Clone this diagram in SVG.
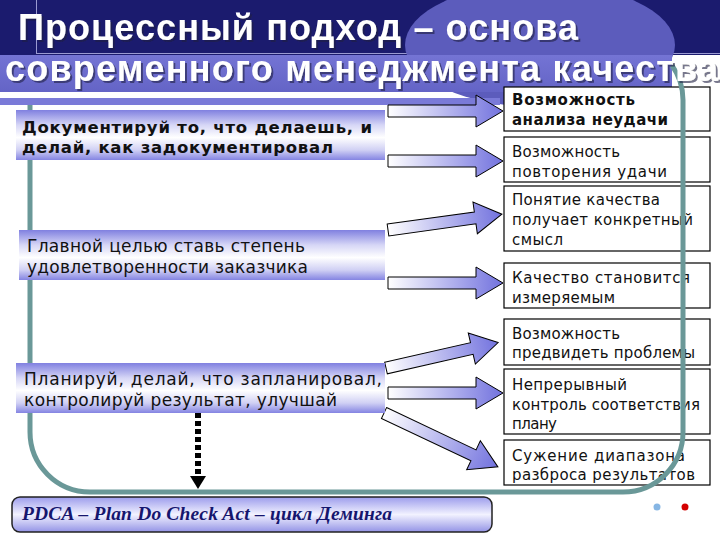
<svg xmlns="http://www.w3.org/2000/svg" width="720" height="540" viewBox="0 0 720 540">
<defs>
<linearGradient id="bandG" x1="0" y1="0" x2="0" y2="1">
<stop offset="0" stop-color="#7474d4"/><stop offset="1" stop-color="#6464c6"/>
</linearGradient>
<linearGradient id="boxG" x1="0" y1="0" x2="0" y2="1">
<stop offset="0" stop-color="#8080e0"/><stop offset="0.3" stop-color="#d6d6f6"/><stop offset="0.55" stop-color="#ffffff"/><stop offset="0.8" stop-color="#d0d0f4"/><stop offset="1" stop-color="#8484e2"/>
</linearGradient>
<linearGradient id="pdcaG" x1="0" y1="0" x2="0" y2="1">
<stop offset="0" stop-color="#9c9cec"/><stop offset="0.5" stop-color="#f2f2ff"/><stop offset="1" stop-color="#9494e6"/>
</linearGradient>
<linearGradient id="arrG" x1="0" y1="0" x2="1" y2="0">
<stop offset="0" stop-color="#ffffff"/><stop offset="1" stop-color="#7272de"/>
</linearGradient>
<filter id="ts" x="-5%" y="-20%" width="110%" height="150%">
<feDropShadow dx="2" dy="2" stdDeviation="0.6" flood-color="#202040" flood-opacity="0.6"/>
</filter>
<path id="arr" d="M0,-6 H88 V-16 L115,0 L88,16 V6 H0 Z"/>
<path id="arrL" d="M0,-6 H99 V-16 L126,0 L99,16 V6 H0 Z"/>
<style>
.title{font-family:"Liberation Sans",Arial,sans-serif;font-weight:bold;font-size:36px;fill:#ffffff;filter:url(#ts)}
.lbox{fill:url(#boxG)}
.ltxt{font-family:"DejaVu Sans",Verdana,sans-serif;font-size:17px;fill:#111}
.ltxtb{font-family:"DejaVu Sans",Verdana,sans-serif;font-size:16.5px;font-weight:bold;fill:#111}
.rbox{fill:#ffffff;stroke:#000;stroke-width:1.2}
.rtxt{font-family:"DejaVu Sans",Verdana,sans-serif;font-size:15px;fill:#111}
.rtxtb{font-family:"DejaVu Sans",Verdana,sans-serif;font-size:15px;font-weight:bold;fill:#111}
.arrow{fill:url(#arrG);stroke:#000;stroke-width:1}
.loop{fill:none;stroke:#6a9898;stroke-width:5}
</style>
</defs>
<rect x="0" y="0" width="720" height="540" fill="#ffffff"/>
<g id="header">
<rect x="0" y="0" width="720" height="55" fill="#1b1b6e"/>
<line x1="36.5" y1="0" x2="36.5" y2="54" stroke="#9a9ad2" stroke-width="1"/>
<line x1="36" y1="53.5" x2="720" y2="53.5" stroke="#9a9ad2" stroke-width="1"/>
<ellipse cx="540" cy="45" rx="135" ry="62" fill="#5c5cbc"/>
<rect x="0" y="55" width="672" height="37" fill="url(#bandG)"/>
<rect x="0" y="98" width="500" height="7" fill="#7a7ad8"/>
</g>
<g id="right-boxes">
<g id="rA"><rect class="rbox" x="504" y="87" width="206" height="44"/>
<text class="rtxtb" x="512" y="105" textLength="123">Возможность</text>
<text class="rtxtb" x="512" y="125" textLength="156">анализа неудачи</text></g>
<g id="rB"><rect class="rbox" x="504" y="137" width="206" height="45"/>
<text class="rtxt" x="512" y="157" textLength="108">Возможность</text>
<text class="rtxt" x="512" y="177" textLength="155">повторения удачи</text></g>
<g id="rC"><rect class="rbox" x="504" y="186" width="206" height="65"/>
<text class="rtxt" x="512" y="205" textLength="148">Понятие качества</text>
<text class="rtxt" x="512" y="225" textLength="181">получает конкретный</text>
<text class="rtxt" x="512" y="245" textLength="51">смысл</text></g>
<g id="rD"><rect class="rbox" x="504" y="263" width="206" height="45"/>
<text class="rtxt" x="512" y="283" textLength="178">Качество становится</text>
<text class="rtxt" x="512" y="303" textLength="103">измеряемым</text></g>
<g id="rE"><rect class="rbox" x="504" y="319" width="206" height="46"/>
<text class="rtxt" x="512" y="339" textLength="108">Возможность</text>
<text class="rtxt" x="512" y="358" textLength="183">предвидеть проблемы</text></g>
<g id="rF"><rect class="rbox" x="504" y="369" width="206" height="65"/>
<text class="rtxt" x="512" y="390" textLength="115">Непрерывный</text>
<text class="rtxt" x="512" y="410" textLength="188">контроль соответствия</text>
<text class="rtxt" x="512" y="429" textLength="45">плану</text></g>
<g id="rG"><rect class="rbox" x="504" y="440" width="206" height="45"/>
<text class="rtxt" x="512" y="461" textLength="173">Сужение диапазона</text>
<text class="rtxt" x="512" y="480" textLength="183">разброса результатов</text></g>
</g>
<g id="connectors">
<path class="loop" d="M672,65.4 A60,60 0 0 1 683,100 L683,432 A60,60 0 0 1 623,492 L90,492 A60,60 0 0 1 30,432 L30,105"/>
<use href="#arr" class="arrow" transform="translate(388,111)"/>
<use href="#arr" class="arrow" transform="translate(388,161)"/>
<use href="#arr" class="arrow" transform="translate(388,230) rotate(-7.9)"/>
<use href="#arr" class="arrow" transform="translate(388,283)"/>
<use href="#arr" class="arrow" transform="translate(386,368) rotate(-12.8)"/>
<use href="#arr" class="arrow" transform="translate(388,393)"/>
<use href="#arrL" class="arrow" transform="translate(384,413) rotate(25.3)"/>
<line x1="198" y1="413" x2="198" y2="477" stroke="#000" stroke-width="6" stroke-dasharray="5 3"/>
<polygon points="190,476 206,476 198,489" fill="#000"/>
</g>
<g id="l1"><rect class="lbox" x="16" y="110" width="369" height="50"/>
<text class="ltxtb" x="22" y="133" textLength="350">Документируй то, что делаешь, и</text>
<text class="ltxtb" x="22" y="153" textLength="311">делай, как задокументировал</text></g>
<g id="l2"><rect class="lbox" x="19" y="230" width="366" height="50"/>
<text class="ltxt" x="27" y="252" textLength="278">Главной целью ставь степень</text>
<text class="ltxt" x="27" y="273" textLength="281">удовлетворенности заказчика</text></g>
<g id="l3"><rect class="lbox" x="16" y="363" width="369" height="50"/>
<text class="ltxt" x="24" y="385" textLength="358">Планируй, делай, что запланировал,</text>
<text class="ltxt" x="24" y="406" textLength="313">контролируй результат, улучшай</text></g>
<g id="pdca"><rect x="12" y="497" width="480" height="35" rx="8" fill="url(#pdcaG)" stroke="#222" stroke-width="1.5"/>
<text x="22" y="520" font-family="Liberation Serif,'Times New Roman',serif" font-weight="bold" font-style="italic" font-size="19.5" fill="#16166e" textLength="370">PDCA – Plan Do Check Act – цикл Деминга</text></g>
<circle cx="657" cy="507" r="3.5" fill="#86b6e4"/>
<circle cx="685" cy="507" r="3.5" fill="#d40000"/>
<g id="title">
<text class="title" x="18" y="40" textLength="560">Процессный подход – основа</text>
<text class="title" x="5" y="81" textLength="713">современного менеджмента качества</text>
</g>
</svg>
